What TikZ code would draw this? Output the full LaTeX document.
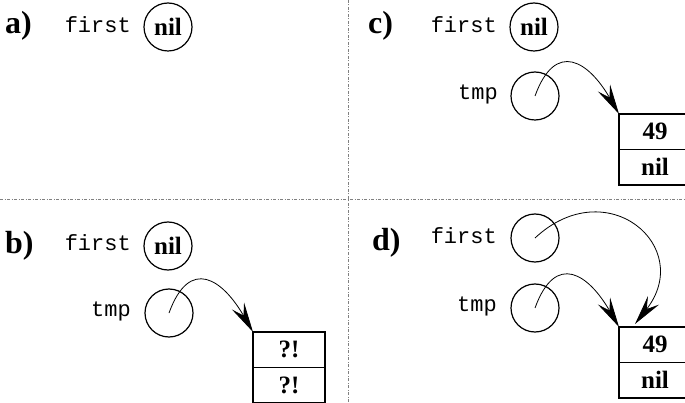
\documentclass[tikz,border=0pt]{standalone}
\usepackage{fontspec}
\setmainfont{Liberation Serif}
\setmonofont{Liberation Mono}
\usetikzlibrary{arrows.meta}

\tikzset{
  ptr/.style={circle, draw, line width=1.2pt, minimum size=48pt, inner sep=0pt,
    font=\fontsize{25}{25}\selectfont\bfseries},
  var/.style={anchor=mid east, inner sep=0pt, font=\fontsize{22}{22}\selectfont\ttfamily},
  lbl/.style={anchor=base west, inner sep=0pt, font=\fontsize{32}{32}\selectfont\bfseries},
  cell/.style={draw, line width=1.2pt, outer sep=0pt, minimum width=72pt, minimum height=35.5pt,
    inner sep=0pt, font=\fontsize{25}{25}\selectfont\bfseries},
  sep/.style={gray, line width=0.6pt, dash pattern=on 3pt off 1.5pt on 1pt off 1.5pt},
  link/.style={-{Stealth[length=30pt,width=14pt,inset=11pt]}, line width=0.8pt}
}

\begin{document}
\begin{tikzpicture}[x=1pt,y=1pt]
\useasboundingbox (0,0) rectangle (685,402);
\clip (0,0) rectangle (685,402);

\draw[sep] (348,0) -- (348,402);
\draw[sep] (0,203) -- (685,203);

% a)
\node[lbl] (la) at (5,368)   {a)};
\node[var] (fa) at (131,372) {first};
\node[ptr] (pa) at (168,375) {nil};

% c)
\node[lbl] (lc) at (368,368) {c)};
\node[var] (fc) at (497,372) {first};
\node[ptr] (pc) at (534,375) {nil};
\node[var] (tc) at (498,305) {tmp};
\node[ptr] (qc) at (535,306) {};
\node[cell, anchor=north west] (c1) at (619,288) {49};
\node[cell, anchor=north] (c2) at (c1.south) {nil};

% b)
\node[lbl] (lb) at (5,149)   {b)};
\node[var] (fb) at (131,154) {first};
\node[ptr] (pb) at (168,156) {nil};
\node[var] (tb) at (131,88)  {tmp};
\node[ptr] (qb) at (169,89)  {};
\node[cell, anchor=north west] (b1) at (253,70) {?!};
\node[cell, anchor=north] (b2) at (b1.south) {?!};

% d)
\node[lbl] (ld) at (372,152) {d)};
\node[var] (fd) at (497,161) {first};
\node[ptr] (pd) at (535,164) {};
\node[var] (td) at (497,93)  {tmp};
\node[ptr] (qd) at (535,94)  {};
\node[cell, anchor=north west] (d1) at (619,75) {49};
\node[cell, anchor=north] (d2) at (d1.south) {nil};

\path[link]
(qc.center) edge[out=70,in=120,looseness=1.8] (c1.north west)
(qb.center) edge[out=70,in=120,looseness=1.8] (b1.north west)
(qd.center) edge[out=70,in=120,looseness=1.8] (d1.north west)
(pd.center) edge[out=43,in=52,looseness=1.9] ([xshift=16pt,yshift=3pt]d1.north west)
;
\end{tikzpicture}
\end{document}
